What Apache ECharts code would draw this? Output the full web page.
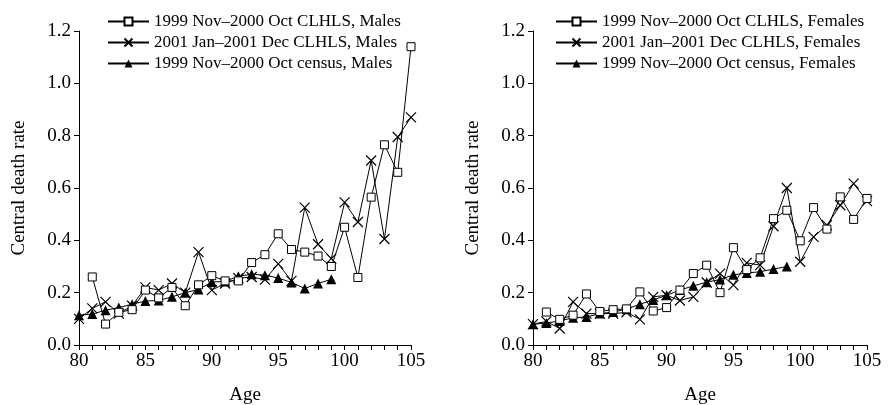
<!DOCTYPE html>
<html><head><meta charset="utf-8">
<script src="https://cdn.jsdelivr.net/npm/echarts@6/dist/echarts.min.js"></script>
<style>html,body{margin:0;padding:0;background:#fff}#c{width:890px;height:405px}</style>
</head><body><div id="c"></div>
<script>
var ages = [80,81,82,83,84,85,86,87,88,89,90,91,92,93,94,95,96,97,98,99,100,101,102,103,104,105];
var censusAges = [80,81,82,83,84,85,86,87,88,89,90,91,92,93,94,95,96,97,98,99];
var xTicks = [80,85,90,95,100,105];
var yTicks = [0.0,0.2,0.4,0.6,0.8,1.0,1.2];

var maleNames = ['1999 Nov\u20132000 Oct CLHLS, Males','2001 Jan\u20132001 Dec CLHLS, Males','1999 Nov\u20132000 Oct census, Males'];
var femaleNames = ['1999 Nov\u20132000 Oct CLHLS, Females','2001 Jan\u20132001 Dec CLHLS, Females','1999 Nov\u20132000 Oct census, Females'];

var male1999 = [null,0.26,0.08,0.125,0.135,0.21,0.18,0.22,0.15,0.23,0.265,0.245,0.245,0.315,0.345,0.425,0.365,0.355,0.34,0.30,0.45,0.258,0.565,0.765,0.66,1.14];
var male2001 = [0.10,0.14,0.165,0.12,0.15,0.22,0.21,0.235,0.20,0.355,0.21,0.235,0.255,0.26,0.25,0.31,0.245,0.525,0.385,0.33,0.545,0.47,0.705,0.405,0.795,0.87];
var maleCensus = [0.114,0.118,0.133,0.143,0.156,0.168,0.17,0.184,0.2,0.212,0.241,0.243,0.263,0.27,0.267,0.256,0.239,0.216,0.235,0.251];

var female1999 = [null,0.126,0.098,0.114,0.195,0.128,0.135,0.138,0.203,0.13,0.143,0.21,0.273,0.305,0.2,0.372,0.288,0.333,0.483,0.515,0.398,0.525,0.443,0.566,0.48,0.56];
var female2001 = [0.08,0.09,0.063,0.165,0.12,0.12,0.12,0.125,0.098,0.184,0.19,0.17,0.184,0.239,0.273,0.229,0.314,0.305,0.454,0.60,0.318,0.413,0.458,0.534,0.617,0.55];
var femaleCensus = [0.079,0.084,0.092,0.104,0.107,0.12,0.126,0.137,0.156,0.172,0.19,0.21,0.226,0.24,0.25,0.268,0.275,0.28,0.29,0.30];

var FONT = 'Liberation Serif';
function pairs(xs, ys){ return xs.map(function(x,i){ return [x, ys[i]]; }); }

var styles = [
  {symbol:'rect', symbolSize:8, itemStyle:{color:'#fff', borderColor:'#000', borderWidth:1}},
  {symbol:'path://M0,0L10,10M0,10L10,0', symbolSize:10, itemStyle:{color:'#000', borderColor:'#000', borderWidth:1.2}},
  {symbol:'triangle', symbolSize:10, itemStyle:{color:'#000', borderColor:'#000', borderWidth:0}}
];

function mkSeries(name, idx, xs, ys, st){
  return {
    type:'line', name:name, xAxisIndex:idx, yAxisIndex:idx,
    data: pairs(xs, ys), symbol: st.symbol, symbolSize: st.symbolSize,
    itemStyle: st.itemStyle, lineStyle:{color:'#000', width:1},
    connectNulls:false, animation:false, z: 3
  };
}

function xAxis(idx){
  return {
    gridIndex:idx, type:'value', min:80, max:105, interval:1,
    name:'Age', nameLocation:'middle', nameGap:41,
    nameTextStyle:{fontFamily:FONT, fontSize:19, color:'#000'},
    axisLine:{onZero:false, lineStyle:{color:'#000', width:1}},
    axisTick:{show:true, length:5, lineStyle:{color:'#000'}},
    axisLabel:{fontFamily:FONT, fontSize:19, color:'#000', margin:7,
      formatter:function(v){ return xTicks.indexOf(v) >= 0 ? String(v) : ''; }},
    splitLine:{show:false}
  };
}
function yAxis(idx){
  return {
    gridIndex:idx, type:'value', min:0, max:1.2, interval:0.2,
    name:'Central death rate', nameLocation:'middle', nameGap:50,
    nameTextStyle:{fontFamily:FONT, fontSize:19, color:'#000'},
    axisLine:{show:true, lineStyle:{color:'#000', width:1}},
    axisTick:{show:true, length:5, lineStyle:{color:'#000'}},
    axisLabel:{fontFamily:FONT, fontSize:19, color:'#000', margin:8,
      formatter:function(v){ return v.toFixed(1); }},
    splitLine:{show:false}
  };
}
function legend(left, names){
  return {
    orient:'vertical', left:left, top:13, data:names, padding:0,
    itemWidth:41, itemHeight:10, itemGap:4,
    textStyle:{fontFamily:FONT, fontSize:17, color:'#000'},
    selectedMode:false
  };
}

var chart = echarts.init(document.getElementById('c'), null, {renderer:'canvas'});
chart.setOption({
  backgroundColor:'#fff',
  animation:false,
  grid:[
    {left:79, top:31, width:332, height:314, outerBoundsMode:'none', containLabel:false},
    {left:533, top:31, width:334, height:314, outerBoundsMode:'none', containLabel:false}
  ],
  xAxis:[xAxis(0), xAxis(1)],
  yAxis:[yAxis(0), yAxis(1)],
  legend:[legend(107, maleNames), legend(555, femaleNames)],
  series:[
    mkSeries(maleNames[2], 0, censusAges, maleCensus, styles[2]),
    mkSeries(maleNames[1], 0, ages, male2001, styles[1]),
    mkSeries(maleNames[0], 0, ages, male1999, styles[0]),
    mkSeries(femaleNames[2], 1, censusAges, femaleCensus, styles[2]),
    mkSeries(femaleNames[1], 1, ages, female2001, styles[1]),
    mkSeries(femaleNames[0], 1, ages, female1999, styles[0])
  ]
});
</script></body></html>
